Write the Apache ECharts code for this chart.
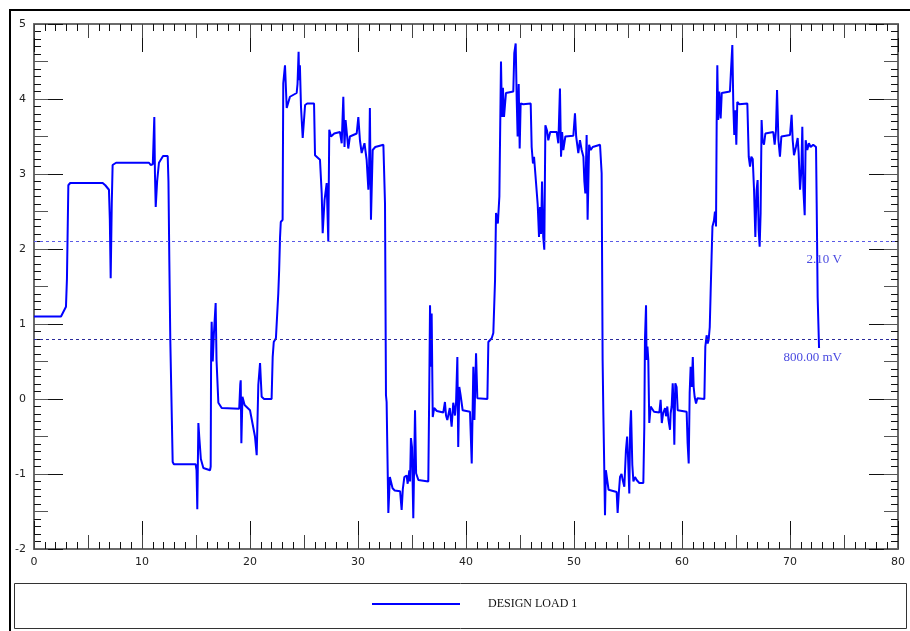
<!DOCTYPE html>
<html><head><meta charset="utf-8">
<script src="https://cdn.jsdelivr.net/npm/echarts@6/dist/echarts.min.js"></script>
<style>html,body{margin:0;padding:0;background:#fff}#c{width:910px;height:631px}</style>
</head><body><div id="c"></div>
<script>
const seriesName = 'DESIGN LOAD 1';
const xRange = [0, 80];
const yRange = [-2, 5];
const thresholds = [2.1, 0.8];
const thresholdLabels = ['2.10 V', '800.00 mV'];

// [time, volts] pairs
const seg1 = [[0,1.1],[2.5,1.1],[2.96,1.23],[3.05,1.6],[3.18,2.85],[3.35,2.88],[6.36,2.88],[6.6,2.85],[6.94,2.79],[7.02,2.4],[7.1,1.61],[7.2,2.6],[7.28,3.12],[7.6,3.15],[10.65,3.15],[10.8,3.12],[11.0,3.13],[11.14,3.76],[11.2,3.0],[11.27,2.56],[11.4,2.9],[11.57,3.15],[11.95,3.24],[12.38,3.24],[12.45,2.9],[12.53,1.85],[12.62,0.79],[12.84,-0.84],[12.95,-0.87],[14.97,-0.87],[15.05,-0.95],[15.12,-1.47],[15.22,-0.32],[15.3,-0.5],[15.45,-0.8],[15.68,-0.92],[16.3,-0.95]];
const seg2 = [[16.36,-0.9],[16.4,0.6],[16.45,1.03],[16.55,0.5],[16.65,0.85],[16.82,1.28],[16.9,0.52],[17.07,-0.05],[17.38,-0.12],[19.0,-0.13],[19.1,0.2],[19.14,0.25],[19.2,-0.59],[19.3,0.03],[19.5,-0.08],[20.0,-0.15],[20.46,-0.5],[20.62,-0.75],[20.77,0.19],[20.93,0.48],[21.08,0.03],[21.3,0.0],[22.0,0.0],[22.1,0.56],[22.2,0.76],[22.4,0.81],[22.62,1.41],[22.7,1.72],[22.78,2.15],[22.85,2.36],[23.02,2.39]];
const seg3 = [[23.08,4.21],[23.24,4.45],[23.4,3.88],[23.7,4.03],[24.32,4.08],[24.4,4.2],[24.5,4.63],[24.55,4.25],[24.62,4.45],[24.72,3.9],[24.88,3.48],[25.1,3.92],[25.3,3.94],[25.93,3.94],[26.02,3.25],[26.48,3.19],[26.64,2.74],[26.73,2.21],[26.9,2.65],[27.1,2.88],[27.25,2.1],[27.34,3.59],[27.5,3.5],[27.8,3.54],[28.33,3.56],[28.49,3.41],[28.64,4.03],[28.75,3.36],[28.85,3.72],[29.1,3.34],[29.25,3.5],[29.88,3.54],[30.03,3.76],[30.18,3.45],[30.34,3.28],[30.6,3.41],[30.8,3.19],[30.96,2.79],[31.02,2.99],[31.1,3.88],[31.2,2.39],[31.36,3.32],[31.6,3.36],[32.35,3.39],[32.5,2.61],[32.59,0.05]];
const seg4 = [[32.65,-0.04],[32.81,-1.52],[32.95,-1.04],[33.05,-1.1],[33.2,-1.19],[33.4,-1.22],[33.9,-1.23],[34.04,-1.48],[34.15,-1.2],[34.29,-1.04],[34.5,-1.02],[34.6,-1.13],[34.75,-0.95],[34.82,-1.1],[34.9,-0.52],[35.0,-0.64],[35.12,-1.59],[35.28,-0.15],[35.38,-0.99],[35.59,-1.08],[36.51,-1.1],[36.6,0.16],[36.67,1.25],[36.75,0.43],[36.82,1.14],[36.92,-0.24],[37.05,-0.12],[37.3,-0.16],[37.9,-0.18],[38.05,-0.04],[38.15,-0.22],[38.27,-0.28],[38.5,-0.12],[38.67,-0.37],[38.82,-0.05],[38.98,-0.22],[39.08,-0.04],[39.2,0.56],[39.28,-0.64],[39.38,0.16],[39.5,0.05],[39.69,-0.15],[40.37,-0.17],[40.53,-0.86],[40.68,0.43],[40.78,-0.28],[40.93,0.61],[41.05,0.01],[41.98,0.0],[42.07,0.76],[42.38,0.81],[42.53,0.88],[42.69,1.59],[42.78,2.48],[42.95,2.34],[43.09,2.7]];
const seg5 = [[43.24,4.5],[43.33,3.76],[43.42,4.15],[43.52,3.76],[43.7,4.08],[44.38,4.1],[44.47,4.61],[44.6,4.74],[44.69,4.03],[44.78,3.5],[44.88,4.2],[44.97,3.34],[45.06,3.94],[45.3,3.93],[45.99,3.94],[46.08,3.36],[46.2,3.14],[46.3,3.23],[46.48,3.22],[46.64,2.59],[46.76,2.16],[46.85,2.56],[46.95,2.2],[47.04,2.9],[47.15,2.16],[47.25,1.99],[47.35,3.65],[47.5,3.58],[47.62,3.45],[47.8,3.56],[48.4,3.56],[48.55,3.41],[48.7,4.14],[48.8,3.23],[48.9,3.56],[49.01,3.32],[49.2,3.5],[49.94,3.51],[50.09,3.81],[50.2,3.5],[50.4,3.28],[50.55,3.45],[50.71,3.32],[50.87,3.23],[50.96,2.9],[51.05,2.74],[51.17,3.52],[51.26,2.39],[51.4,3.39],[51.55,3.32],[51.73,3.36],[52.41,3.39],[52.56,3.01],[52.65,0.52],[52.72,-0.21],[52.8,-0.9],[52.87,-1.55]];
const seg6 = [[52.95,-0.95],[53.09,-0.97],[53.2,-1.21],[53.33,-1.22],[53.95,-1.24],[54.04,-1.52],[54.15,-1.25],[54.26,-1.04],[54.4,-1.0],[54.51,-1.08],[54.66,-1.17],[54.81,-0.68],[54.92,-0.5],[55.0,-0.76],[55.12,-1.26],[55.2,-0.4],[55.28,-0.15],[55.4,-0.88],[55.5,-1.1],[55.65,-1.04],[55.8,-1.08],[55.96,-1.06],[56.05,-1.12],[56.42,-1.12],[56.51,-0.37],[56.57,0.79],[56.67,1.25],[56.72,0.52],[56.8,0.7],[56.88,0.52],[56.97,-0.32],[57.1,-0.1],[57.25,-0.12],[57.41,-0.17],[57.9,-0.18],[58.02,-0.01],[58.13,-0.32],[58.25,-0.19],[58.43,-0.12],[58.52,-0.23],[58.64,-0.1],[58.74,-0.27],[58.89,-0.41],[58.95,-0.19],[59.04,-0.1],[59.14,0.21],[59.2,0.0],[59.29,-0.61],[59.38,0.21],[59.5,0.16],[59.6,-0.15],[59.75,-0.17],[60.43,-0.17],[60.52,-0.59],[60.62,-0.86],[60.71,0.08],[60.8,0.43],[60.9,0.16],[61.0,0.56],[61.08,0.16],[61.17,0.03],[61.3,-0.06],[61.42,0.01],[62.07,0.0],[62.16,0.7],[62.28,0.85],[62.38,0.74],[62.47,0.79],[62.57,0.96],[62.65,1.41],[62.74,1.9],[62.82,2.3],[62.96,2.38],[63.05,2.5],[63.15,2.3],[63.21,3.68]];
const seg7 = [[63.27,4.45],[63.35,3.72],[63.45,4.1],[63.58,3.74],[63.68,4.08],[64.44,4.1],[64.54,4.39],[64.66,4.72],[64.75,3.92],[64.84,3.52],[64.93,3.85],[65.03,3.39],[65.12,3.96],[65.3,3.93],[66.05,3.94],[66.18,3.23],[66.3,3.1],[66.42,3.23],[66.55,3.2],[66.67,2.79],[66.79,2.16],[66.91,2.79],[67.0,2.92],[67.1,2.25],[67.19,2.03],[67.28,2.48],[67.37,3.72],[67.46,3.45],[67.59,3.39],[67.72,3.54],[67.9,3.56],[68.45,3.56],[68.58,3.39],[68.7,3.58],[68.8,4.12],[68.93,3.45],[69.07,3.23],[69.2,3.5],[69.38,3.51],[70.0,3.52],[70.15,3.79],[70.25,3.45],[70.37,3.25],[70.55,3.36],[70.71,3.48],[70.8,3.28],[70.93,2.79],[71.05,3.05],[71.14,3.63],[71.24,2.79],[71.36,2.45],[71.45,3.45],[71.6,3.32],[71.75,3.41],[71.91,3.36],[72.15,3.39],[72.41,3.36],[72.47,2.61],[72.56,1.36],[72.69,0.68]];

const lineData = [].concat(seg1, seg2, seg3, seg4, seg5, seg6, seg7);

const chart = echarts.init(document.getElementById('c'), null, {renderer: 'canvas'});
const FONT = 'DejaVu Sans';

// tick levels: [interval, length, color]; minor ticks (1/10 of the main step) on the main level
function axesFor(range, positions, levels) {
  const out = [];
  positions.forEach((pos, pi) => {
    levels.forEach((lv, li) => {
      out.push({
        type: 'value', position: pos, min: range[0], max: range[1], interval: lv[0],
        axisLine: {show: li === 0, onZero: false, lineStyle: {color: '#6a6a6a', width: 2}},
        axisTick: {show: true, inside: true, length: lv[1], lineStyle: {color: lv[2], width: 1}},
        minorTick: {show: li === 0, splitNumber: 10, length: 7, lineStyle: {color: '#111', width: 1}},
        splitLine: {show: false}, minorSplitLine: {show: false},
        axisLabel: {show: pi === 0 && li === 0, color: '#222', fontSize: 11, fontFamily: FONT, margin: 8}
      });
    });
  });
  return out;
}

const xLevels = [[10, 28, '#111'], [5, 14, '#444']];
const yLevels = [[1, 29, '#111'], [0.5, 14, '#555']];

const markColors = ['#5a5ae6', '#2a2a9a'];

const option = {
  animation: false,
  backgroundColor: '#ffffff',
  grid: {left: 34, right: 12, top: 24, bottom: 82, containLabel: false},
  xAxis: axesFor(xRange, ['bottom', 'top'], xLevels),
  yAxis: axesFor(yRange, ['left', 'right'], yLevels),
  legend: {
    show: true, left: 372, top: 598, padding: 0, icon: 'rect', itemWidth: 88, itemHeight: 2, itemGap: 10,
    data: [seriesName],
    textStyle: {color: '#111', fontSize: 12, fontFamily: 'Liberation Serif', padding: [2, 0, 0, 23]}
  },
  graphic: [
    {type: 'rect', shape: {x: 10, y: 10, width: 905, height: 630}, style: {fill: 'none', stroke: '#000', lineWidth: 2}, silent: true},
    {type: 'rect', shape: {x: 14.5, y: 583.5, width: 892, height: 45}, style: {fill: 'none', stroke: '#333', lineWidth: 1}, silent: true}
  ],
  series: [{
    name: seriesName, type: 'line', xAxisIndex: 0, yAxisIndex: 0, z: 3,
    data: lineData, showSymbol: false, symbol: 'none',
    lineStyle: {color: '#0000ff', width: 2}, itemStyle: {color: '#0000ff'},
    markLine: {
      silent: true, symbol: ['none', 'none'], animation: false,
      data: thresholds.map((v, i) => ({
        yAxis: v,
        lineStyle: {color: markColors[i], type: [3, 3], width: 1},
        label: {show: true, formatter: thresholdLabels[i], position: 'insideEndBottom', distance: [56, 12],
                color: '#4a4ae0', fontSize: 13, fontFamily: 'Liberation Serif'}
      }))
    }
  }]
};
chart.setOption(option);
</script></body></html>
